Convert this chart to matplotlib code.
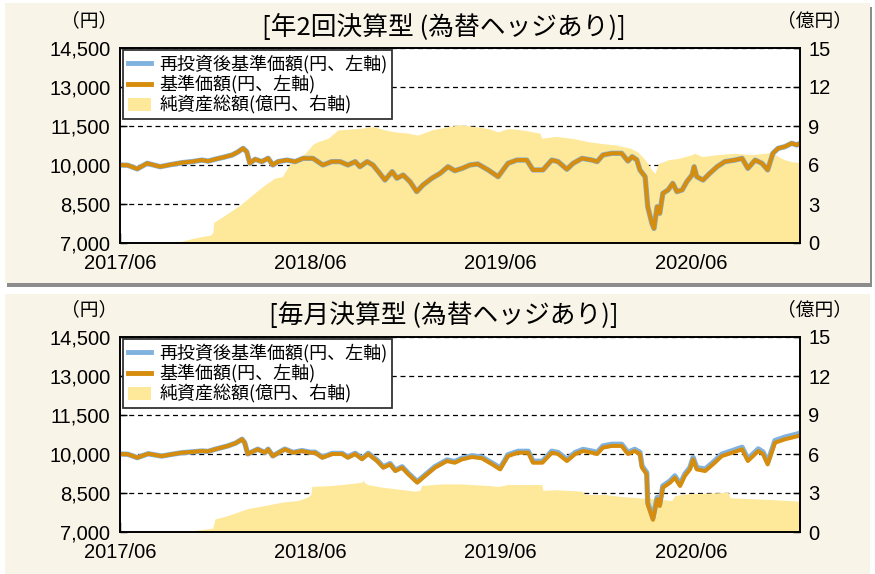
import matplotlib.pyplot as plt
import matplotlib.dates as mdates
import pandas as pd
from matplotlib.lines import Line2D
from matplotlib.patches import Patch, Rectangle
from matplotlib.ticker import StrMethodFormatter

plt.rcParams['font.family'] = ['Liberation Sans', 'Noto Sans CJK JP']

##====================== data : 年2回決算型 =============
dates_top = ["2017-06-01", "2017-06-16", "2017-07-04", "2017-07-23", "2017-08-17", "2017-09-05",
             "2017-09-28", "2017-10-17", "2017-11-05", "2017-11-17", "2017-11-30", "2017-12-17",
             "2018-01-02", "2018-01-13", "2018-01-23", "2018-01-30", "2018-02-05", "2018-02-15",
             "2018-02-28", "2018-03-12", "2018-03-21", "2018-03-31", "2018-04-17", "2018-05-03",
             "2018-05-18", "2018-06-06", "2018-06-25", "2018-07-12", "2018-07-28", "2018-08-12",
             "2018-08-26", "2018-09-04", "2018-09-18", "2018-09-29", "2018-10-12", "2018-10-22",
             "2018-11-05", "2018-11-14", "2018-11-26", "2018-12-09", "2018-12-22", "2019-01-03",
             "2019-01-20", "2019-02-05", "2019-02-20", "2019-03-05", "2019-03-19", "2019-04-03",
             "2019-04-18", "2019-05-08", "2019-05-27", "2019-06-15", "2019-07-02", "2019-07-21",
             "2019-08-02", "2019-08-21", "2019-09-07", "2019-09-19", "2019-10-06", "2019-10-18",
             "2019-11-04", "2019-11-23", "2019-12-03", "2019-12-14", "2019-12-31", "2020-01-19",
             "2020-01-25", "2020-01-31", "2020-02-08", "2020-02-17", "2020-02-23", "2020-03-04",
             "2020-03-09", "2020-03-17", "2020-03-21", "2020-03-27", "2020-04-01", "2020-04-07",
             "2020-04-17", "2020-04-26", "2020-05-04", "2020-05-14", "2020-05-23", "2020-06-02",
             "2020-06-06", "2020-06-11", "2020-06-23", "2020-07-06", "2020-07-20", "2020-08-04",
             "2020-08-23", "2020-09-06", "2020-09-17", "2020-10-01", "2020-10-14", "2020-10-25",
             "2020-11-04", "2020-11-14", "2020-11-27", "2020-12-10", "2020-12-20", "2020-12-26"]
nav_top = [10000, 9990, 9850, 10065, 9935, 10010,
           10090, 10130, 10190, 10150, 10220, 10300,
           10385, 10500, 10640, 10510, 10065, 10220,
           10130, 10260, 10000, 10130, 10190, 10130,
           10255, 10255, 10000, 10130, 10130, 10000,
           10130, 9935, 10130, 10000, 9680, 9420,
           9745, 9490, 9615, 9360, 8975, 9230,
           9490, 9680, 9935, 9780, 9870, 10000,
           10040, 9810, 9550, 10065, 10190, 10190,
           9810, 9810, 10190, 10130, 9835, 10065,
           10255, 10190, 10130, 10385, 10450, 10450,
           10300, 10150, 10320, 10200, 9810, 9550,
           8395, 7755, 7560, 8395, 8140, 8910,
           9040, 9295, 8975, 9040, 9360, 9615,
           9935, 9550, 9420, 9680, 9935, 10130,
           10190, 10255, 9870, 10190, 10065, 9810,
           10450, 10640, 10705, 10835, 10770, 10835]
reinv_top = [10000, 9990, 9850, 10065, 9935, 10010,
             10090, 10130, 10190, 10150, 10220, 10300,
             10385, 10500, 10640, 10510, 10065, 10220,
             10130, 10260, 10000, 10130, 10190, 10130,
             10255, 10255, 10000, 10130, 10130, 10000,
             10130, 9935, 10130, 10000, 9680, 9420,
             9745, 9490, 9615, 9360, 8975, 9230,
             9490, 9680, 9935, 9780, 9870, 10000,
             10040, 9810, 9550, 10065, 10190, 10190,
             9810, 9810, 10190, 10130, 9835, 10065,
             10255, 10190, 10130, 10385, 10450, 10450,
             10300, 10150, 10320, 10200, 9810, 9550,
             8395, 7755, 7560, 8395, 8140, 8910,
             9040, 9295, 8975, 9040, 9360, 9615,
             9935, 9550, 9420, 9680, 9935, 10130,
             10190, 10255, 9870, 10190, 10065, 9810,
             10450, 10640, 10705, 10835, 10770, 10835]

aum_dates_top = ["2017-09-20", "2017-09-24", "2017-10-23", "2017-11-21", "2017-11-26", "2017-11-28",
                 "2017-12-14", "2017-12-29", "2018-01-17", "2018-02-01", "2018-02-28", "2018-03-25",
                 "2018-04-08", "2018-04-23", "2018-05-22", "2018-06-06", "2018-06-16", "2018-07-05",
                 "2018-07-24", "2018-08-31", "2018-09-29", "2018-10-22", "2018-11-10", "2018-12-05",
                 "2018-12-24", "2019-01-20", "2019-02-20", "2019-03-15", "2019-04-13", "2019-05-08",
                 "2019-05-27", "2019-06-15", "2019-07-12", "2019-08-15", "2019-08-19", "2019-09-13",
                 "2019-10-16", "2019-11-15", "2019-12-12", "2020-01-06", "2020-02-04", "2020-02-19",
                 "2020-03-04", "2020-03-17", "2020-03-23", "2020-03-29", "2020-04-17", "2020-05-06",
                 "2020-06-02", "2020-06-07", "2020-06-21", "2020-07-22", "2020-08-23", "2020-09-25",
                 "2020-10-20", "2020-11-02", "2020-11-14", "2020-11-27", "2020-12-10", "2020-12-26"]
aum_top = [0.0, 0.1, 0.4, 0.6, 0.8, 1.6,
           2.0, 2.4, 2.9, 3.4, 4.3, 5.0,
           5.1, 6.1, 6.9, 7.6, 7.8, 8.05,
           8.7, 8.8, 8.95, 8.7, 8.55, 8.45,
           8.3, 8.7, 8.95, 9.1, 8.95, 8.8,
           8.55, 8.8, 8.7, 8.45, 8.05, 8.2,
           8.05, 7.8, 7.65, 7.55, 7.3, 7.0,
           6.4, 5.6, 5.35, 6.1, 6.4, 6.5,
           6.8, 6.9, 6.65, 6.8, 6.9, 6.8,
           6.9, 7.0, 6.65, 6.4, 6.25, 6.2]

##====================== data : 毎月決算型 =============
dates_bot = ["2017-06-01", "2017-06-16", "2017-07-04", "2017-07-25", "2017-08-20", "2017-09-09",
             "2017-09-28", "2017-10-17", "2017-11-05", "2017-11-17", "2017-11-30", "2017-12-25",
             "2018-01-09", "2018-01-21", "2018-01-26", "2018-02-01", "2018-02-20", "2018-03-06",
             "2018-03-12", "2018-03-21", "2018-04-13", "2018-04-29", "2018-05-16", "2018-06-01",
             "2018-06-10", "2018-06-24", "2018-07-13", "2018-08-01", "2018-08-12", "2018-08-26",
             "2018-09-08", "2018-09-20", "2018-10-07", "2018-10-19", "2018-11-01", "2018-11-11",
             "2018-11-24", "2018-12-06", "2018-12-23", "2019-01-03", "2019-01-26", "2019-02-18",
             "2019-03-05", "2019-03-19", "2019-04-07", "2019-04-26", "2019-05-16", "2019-05-31",
             "2019-06-15", "2019-07-04", "2019-07-24", "2019-08-02", "2019-08-20", "2019-09-07",
             "2019-09-19", "2019-10-06", "2019-10-22", "2019-11-06", "2019-11-23", "2019-12-03",
             "2019-12-14", "2019-12-31", "2020-01-19", "2020-01-31", "2020-02-13", "2020-02-23",
             "2020-02-27", "2020-03-07", "2020-03-09", "2020-03-19", "2020-03-27", "2020-04-01",
             "2020-04-07", "2020-04-21", "2020-04-30", "2020-05-10", "2020-05-19", "2020-05-29",
             "2020-06-04", "2020-06-11", "2020-06-27", "2020-07-12", "2020-07-29", "2020-08-18",
             "2020-09-06", "2020-09-17", "2020-10-07", "2020-10-16", "2020-10-25", "2020-11-08",
             "2020-11-27", "2020-12-10", "2020-12-22", "2020-12-26"]
nav_bot = [10000, 9990, 9860, 10010, 9920, 9990,
           10050, 10080, 10115, 10100, 10180, 10310,
           10420, 10565, 10435, 10000, 10180, 10050,
           10180, 9920, 10180, 10050, 10115, 10050,
           10050, 9860, 10000, 10000, 9860, 10000,
           9800, 10000, 9730, 9475, 9600, 9345,
           9475, 9220, 8900, 9090, 9475, 9730,
           9665, 9795, 9885, 9835, 9600, 9410,
           9920, 10050, 10050, 9665, 9665, 10050,
           10000, 9730, 10000, 10115, 10050, 10000,
           10245, 10310, 10310, 10000, 10115, 10000,
           9475, 9220, 8065, 7470, 8260, 8000,
           8705, 8900, 9090, 8770, 9155, 9410,
           9795, 9410, 9345, 9600, 9920, 10050,
           10180, 9730, 10115, 10000, 9600, 10435,
           10565, 10630, 10690, 10720]
reinv_bot = [10000, 9990, 9860, 10010, 9920, 9990,
             10050, 10080, 10115, 10100, 10180, 10312,
             10422, 10568, 10438, 10003, 10185, 10055,
             10186, 9926, 10190, 10062, 10130, 10068,
             10070, 9880, 10022, 10024, 9885, 10026,
             9827, 10028, 9760, 9505, 9631, 9377,
             9508, 9254, 8935, 9126, 9513, 9770,
             9707, 9838, 9930, 9882, 9648, 9460,
             9971, 10102, 10104, 9720, 9721, 10107,
             10057, 9788, 10059, 10175, 10111, 10062,
             10308, 10373, 10374, 10064, 10180, 10065,
             9540, 9285, 8130, 7535, 8325, 8065,
             8770, 8966, 9157, 8838, 9224, 9480,
             9865, 9480, 9417, 9673, 9994, 10126,
             10258, 9809, 10195, 10080, 9681, 10517,
             10648, 10714, 10775, 10805]

aum_dates_bot = ["2017-10-13", "2017-10-17", "2017-11-17", "2017-11-26", "2017-11-30", "2017-12-25",
                 "2018-02-01", "2018-03-06", "2018-04-08", "2018-05-08", "2018-05-27", "2018-06-02",
                 "2018-06-04", "2018-07-12", "2018-08-12", "2018-09-08", "2018-09-10", "2018-09-14",
                 "2018-09-19", "2018-10-16", "2018-11-16", "2018-12-19", "2018-12-28", "2019-01-01",
                 "2019-02-08", "2019-03-15", "2019-05-08", "2019-05-27", "2019-06-15", "2019-08-19",
                 "2019-08-21", "2019-09-13", "2019-11-04", "2019-11-10", "2019-12-18", "2020-01-19",
                 "2020-02-19", "2020-03-23", "2020-04-24", "2020-04-30", "2020-05-25", "2020-06-27",
                 "2020-08-10", "2020-08-14", "2020-10-01", "2020-11-08", "2020-12-03", "2020-12-26"]
aum_bot = [0.0, 0.1, 0.25, 0.3, 1.0, 1.27,
           1.8, 2.04, 2.3, 2.42, 2.68, 2.9,
           3.5, 3.58, 3.7, 3.83, 4.0, 3.75,
           3.65, 3.45, 3.3, 3.14, 3.2, 3.58,
           3.7, 3.7, 3.58, 3.5, 3.65, 3.65,
           3.2, 3.25, 3.14, 2.88, 2.88, 2.73,
           2.63, 2.55, 2.42, 2.8, 2.94, 2.98,
           3.06, 2.63, 2.55, 2.48, 2.42, 2.37]

tick_dates = ["2017-06-01", "2018-06-01", "2019-06-01", "2020-06-01"]
left_ticks = [7000, 8500, 10000, 11500, 13000, 14500]
right_ticks = [0, 3, 6, 9, 12, 15]

labels = ["再投資後基準価額(円、左軸)", "基準価額(円、左軸)", "純資産総額(億円、右軸)"]

C_BLUE = "#80b2e0"
C_ORANGE = "#d68c0c"
C_FILL = "#fee89a"
C_BG = "#f8f4e8"
W, H = 875, 574
JP = ["Noto Sans CJK JP"]


def panel(fig, top_px, title, d_nav, nav, reinv, d_aum, aum):
    # axes rect in pixels : x 120-800, height 195
    rect = [120 / W, 1 - (top_px + 195) / H, 680 / W, 195 / H]
    ax = fig.add_axes(rect)
    ax.set_facecolor("white")
    ax.fill_between(pd.to_datetime(d_aum), aum, 0, color=C_FILL, lw=0, zorder=2)
    ax.set_ylim(0, 15)
    ax.set_yticks(right_ticks)
    ax.grid(axis="y", color="black", ls=(0, (4, 3)), lw=0.9)
    ax.set_axisbelow(True)

    ax_l = ax.twinx()
    ax.yaxis.tick_right()
    ax_l.yaxis.tick_left()
    ax_l.plot(pd.to_datetime(d_nav), reinv, color=C_BLUE, lw=3.8, solid_joinstyle="round")
    ax_l.plot(pd.to_datetime(d_nav), nav, color=C_ORANGE, lw=2.9, solid_joinstyle="round")
    ax_l.set_ylim(7000, 14500)
    ax_l.set_yticks(left_ticks)
    ax_l.yaxis.set_major_formatter(StrMethodFormatter("{x:,.0f}"))

    ax.set_xlim(pd.Timestamp("2017-06-01"), pd.Timestamp("2020-12-26"))
    ax.set_xticks(pd.to_datetime(tick_dates))
    ax.xaxis.set_major_formatter(mdates.DateFormatter("%Y/%m"))

    ax.tick_params(axis="y", direction="in", length=5, width=1, pad=6, labelsize=14.5,
                   right=True, left=False, labelright=True, labelleft=False)
    ax.tick_params(axis="x", direction="in", length=7, width=1, pad=8, labelsize=14.5)
    ax_l.tick_params(axis="y", direction="in", length=5, width=1, pad=7, labelsize=14.5)
    for a in (ax, ax_l):
        for s in a.spines.values():
            s.set_linewidth(1.2)

    handles = [Line2D([], [], color=C_BLUE, lw=3.5),
               Line2D([], [], color=C_ORANGE, lw=3.5),
               Patch(facecolor=C_FILL, edgecolor="none")]
    leg = ax_l.legend(handles, labels, loc="upper left", bbox_to_anchor=(0.005, 0.99),
                      borderaxespad=0, fancybox=False, framealpha=1, edgecolor="#333333",
                      prop={"family": JP, "size": 13},
                      handlelength=1.3, handletextpad=0.45, labelspacing=0.1,
                      borderpad=0.25)
    leg.get_frame().set_linewidth(1.3)

    fig.text(444 / W, 1 - (top_px - 21) / H, title, ha="center", va="center", fontsize=18.5,
             family=JP)
    fig.text(89 / W, 1 - (top_px - 27) / H, "（円）", ha="center", va="center", fontsize=13.5,
             family=JP)
    fig.text(814 / W, 1 - (top_px - 27) / H, "（億円）", ha="center", va="center", fontsize=13.5,
             family=JP)


fig = plt.figure(figsize=(W / 100, H / 100), dpi=100)

# panel backgrounds with a little shadow
fig.patches.append(Rectangle((7 / W, 1 - 287 / H), 865 / W, 280 / H, transform=fig.transFigure,
                             facecolor="#8c8c8c", edgecolor="none", zorder=-20))
fig.patches.append(Rectangle((5 / W, 1 - 283 / H), 865 / W, 280 / H, transform=fig.transFigure,
                             facecolor=C_BG, edgecolor="none", zorder=-10))
fig.patches.append(Rectangle((5 / W, 0), 865 / W, 280 / H, transform=fig.transFigure,
                             facecolor=C_BG, edgecolor="none", zorder=-10))

panel(fig, 48, "[年2回決算型 (為替ヘッジあり)]", dates_top, nav_top, reinv_top, aum_dates_top, aum_top)
panel(fig, 337, "[毎月決算型 (為替ヘッジあり)]", dates_bot, nav_bot, reinv_bot, aum_dates_bot, aum_bot)

fig.savefig("out.png", dpi=100)
